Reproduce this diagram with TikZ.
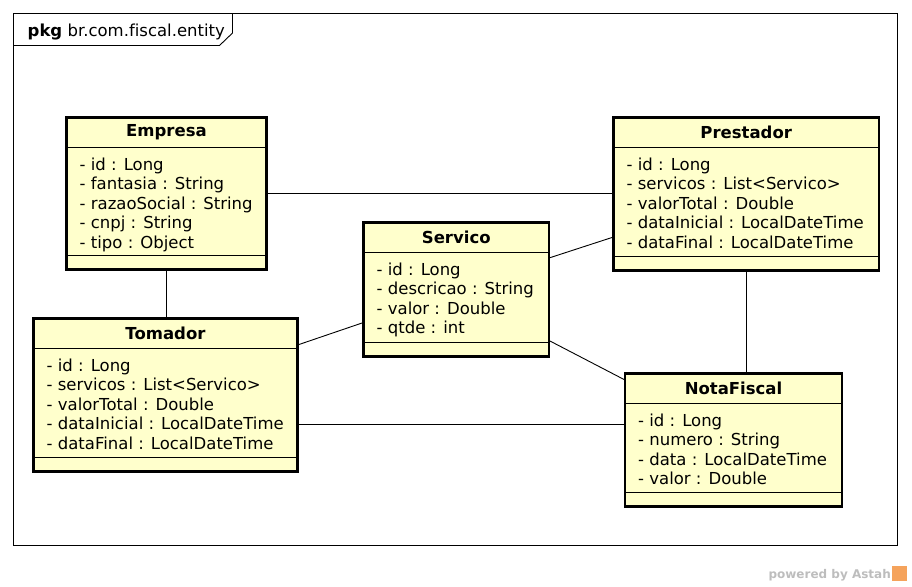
\documentclass[tikz,border=0pt]{standalone}
\usepackage{fontspec}
\setmainfont{DejaVu Sans}[Ligatures=NoCommon]
\usetikzlibrary{positioning, calc}

\definecolor{classfill}{HTML}{FFFFCC}
\definecolor{astahgray}{HTML}{BDBDBD}
\definecolor{astahorange}{HTML}{F5A35C}

\tikzset{
	classbox/.style = {draw, line width=2.6pt, fill=classfill, inner sep=0pt, outer sep=0pt, anchor=north west},
	classname/.style = {font=\fontsize{16.5}{19.6}\selectfont\bfseries},
	attr/.style = {anchor=base west, inner sep=0pt, font=\fontsize{16.5}{19.6}\selectfont},
	compline/.style = {line width=.9pt},
	assoc/.style = {line width=.9pt}
}

\begin{document}
\begin{tikzpicture}[x=1pt, y=-1pt]
			\useasboundingbox (0,0) rectangle (912,586);
			
			% package frame
			\draw[line width=.9pt] (13.5,13.5) rectangle (897.5,545.5);
			\draw[line width=.9pt] (13.5,45.5) -- (219.5,45.5) -- (232.5,33) -- (232.5,13.5);
			\node[attr] (pkg) at (27.5,36.5) {\textbf{pkg} br.com.fiscal.entity};
			
			% Empresa
			\node[classbox, minimum width=200pt, minimum height=152pt] (empresa) at (66.5,117.5) {};
			\node[classname] at ([yshift=-15pt]empresa.north) {Empresa};
			\draw[compline] ([yshift=-30pt]empresa.north west) -- ([yshift=-30pt]empresa.north east);
			\draw[compline] ([yshift=14pt]empresa.south west) -- ([yshift=14pt]empresa.south east);
			\foreach \a [count=\i] in {{- id : Long}, {- fantasia : String}, {- razaoSocial : String}, {- cnpj : String}, {- tipo : Object}}
				\node[attr] at ([xshift=13pt, yshift={-52.5-19.6*(\i-1)}]empresa.north west) {\a};
			
			% Prestador
			\node[classbox, minimum width=265.5pt, minimum height=153pt] (prestador) at (613.5,117.5) {};
			\node[classname] at ([yshift=-15pt]prestador.north) {Prestador};
			\draw[compline] ([yshift=-30pt]prestador.north west) -- ([yshift=-30pt]prestador.north east);
			\draw[compline] ([yshift=14pt]prestador.south west) -- ([yshift=14pt]prestador.south east);
			\foreach \a [count=\i] in {{- id : Long}, {- servicos : List<Servico>}, {- valorTotal : Double}, {- dataInicial : LocalDateTime}, {- dataFinal : LocalDateTime}}
				\node[attr] at ([xshift=13pt, yshift={-52.5-19.6*(\i-1)}]prestador.north west) {\a};
			
			% Servico
			\node[classbox, minimum width=185.5pt, minimum height=134pt] (servico) at (363.5,222.5) {};
			\node[classname] at ([yshift=-15pt]servico.north) {Servico};
			\draw[compline] ([yshift=-30pt]servico.north west) -- ([yshift=-30pt]servico.north east);
			\draw[compline] ([yshift=14pt]servico.south west) -- ([yshift=14pt]servico.south east);
			\foreach \a [count=\i] in {{- id : Long}, {- descricao : String}, {- valor : Double}, {- qtde : int}}
				\node[attr] at ([xshift=13pt, yshift={-52.5-19.6*(\i-1)}]servico.north west) {\a};
			
			% Tomador
			\node[classbox, minimum width=264pt, minimum height=153pt] (tomador) at (33.5,318.5) {};
			\node[classname] at ([yshift=-15pt]tomador.north) {Tomador};
			\draw[compline] ([yshift=-30pt]tomador.north west) -- ([yshift=-30pt]tomador.north east);
			\draw[compline] ([yshift=14pt]tomador.south west) -- ([yshift=14pt]tomador.south east);
			\foreach \a [count=\i] in {{- id : Long}, {- servicos : List<Servico>}, {- valorTotal : Double}, {- dataInicial : LocalDateTime}, {- dataFinal : LocalDateTime}}
				\node[attr] at ([xshift=13pt, yshift={-52.5-19.6*(\i-1)}]tomador.north west) {\a};
			
			% NotaFiscal
			\node[classbox, minimum width=217pt, minimum height=133pt] (notafiscal) at (625,373.5) {};
			\node[classname] at ([yshift=-15pt]notafiscal.north) {NotaFiscal};
			\draw[compline] ([yshift=-30pt]notafiscal.north west) -- ([yshift=-30pt]notafiscal.north east);
			\draw[compline] ([yshift=14pt]notafiscal.south west) -- ([yshift=14pt]notafiscal.south east);
			\foreach \a [count=\i] in {{- id : Long}, {- numero : String}, {- data : LocalDateTime}, {- valor : Double}}
				\node[attr] at ([xshift=13pt, yshift={-52.5-19.6*(\i-1)}]notafiscal.north west) {\a};
			
			% associations
			\draw[assoc] (empresa.east) -- (empresa.east -| prestador.west);
			\draw[assoc] (empresa.south) -- (empresa.south |- tomador.north);
			\draw[assoc] ([yshift=31.5pt]servico.east) -- ([yshift=-43pt]prestador.west);
			\draw[assoc] ([yshift=-33pt]servico.west) -- ([yshift=50pt]tomador.east);
			\draw[assoc] ([yshift=-51pt]servico.east) -- ([yshift=60pt]notafiscal.west);
			\draw[assoc] (prestador.south) -- (prestador.south |- notafiscal.north);
			\draw[assoc] ([yshift=-29pt]tomador.east) -- ([yshift=-29pt]tomador.east -| notafiscal.west);
			
			% footer
			\node[anchor=base east, inner sep=0pt, text=astahgray, font=\fontsize{12}{14}\selectfont\bfseries] (powered) at (891,578) {powered by Astah};
			\node[fill=astahorange, minimum size=15pt, inner sep=0pt, anchor=west] (logo) at ([xshift=1pt]powered.east |- 0,573.5) {};
		\end{tikzpicture}
\end{document}
